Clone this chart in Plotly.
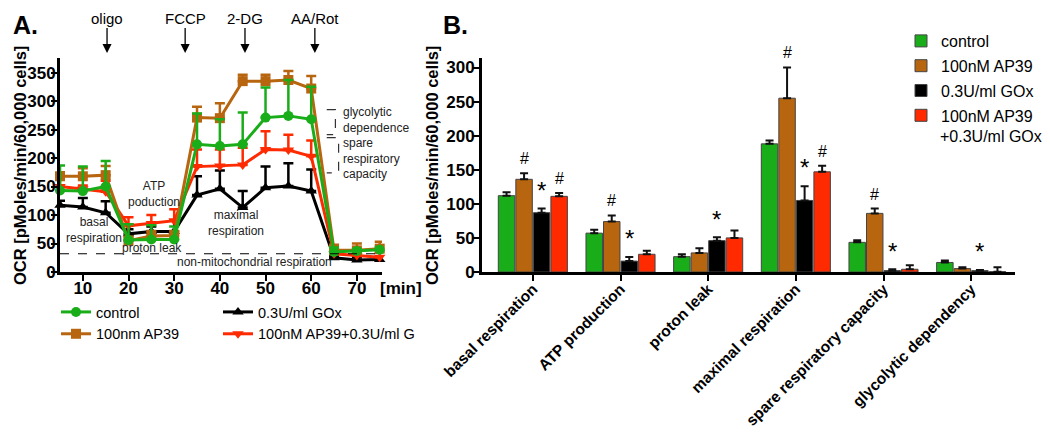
import plotly.graph_objects as go

# ---------------- Panel A data ----------------
time_min = [5, 10, 15, 20, 25, 30, 35, 40, 45, 50, 55, 60, 65, 70, 75]
a_control = [143, 142, 150, 56, 57, 57, 224, 221, 224, 271, 274, 268, 35, 37, 39]
a_control_up = [187, 185, 195, 84, 82, 80, 278, 268, 280, 324, 337, 325, 43, 41, 44]
a_ap39 = [168, 168, 170, 55, 63, 64, 271, 270, 335, 335, 337, 322, 38, 38, 41]
a_ap39_up = [175, 182, 186, 62, 72, 72, 290, 296, 346, 346, 353, 344, 48, 50, 53]
a_gox = [117, 114, 104, 67, 71, 71, 135, 146, 113, 148, 151, 142, 25, 21, 22]
a_gox_up = [125, 130, 124, 75, 80, 90, 168, 178, 142, 185, 191, 180, 28, 26, 25]
a_combo = [150, 146, 141, 81, 85, 90, 185, 186, 188, 215, 214, 203, 32, 29, 26]
a_combo_up = [175, 152, 160, 96, 100, 110, 215, 215, 218, 247, 241, 231, 40, 36, 34]
nonmito_level = 32
injections = ["oligo", "FCCP", "2-DG", "AA/Rot"]
injection_times = [15.3, 32.4, 45.5, 60.8]

# ---------------- Panel B data ----------------
categories = ["basal respiration", "ATP production", "proton leak",
              "maximal respiration", "spare respiratory capacity", "glycolytic dependency"]
b_control = [112, 57, 22.5, 188, 43.5, 14]
b_control_err = [5, 5, 3.5, 5, 3, 3]
b_ap39 = [136, 74, 28, 255, 86, 5]
b_ap39_err = [9, 9, 7, 45, 7, 2]
b_gox = [87, 16, 46, 105, 2, 2]
b_gox_err = [6, 6, 5, 21, 2, 1]
b_combo = [111, 26, 50, 147, 4, 0.5]
b_combo_err = [5, 5, 11, 9, 6, 6.5]
sig_ap39 = ["#", "#", "", "#", "#", ""]
sig_gox = ["*", "*", "*", "*", "*", "*"]
sig_combo = ["#", "", "", "#", "", ""]

GREEN = "#1aad1a"
BROWN = "#b8650f"
BLACK = "#000000"
RED = "#ff2a00"
FONT = "Liberation Sans, Arial, sans-serif"

# the page body has an 8 px margin; lay out in reference-picture pixels
OFF = 8
W, H = 1050 - OFF, 436 - OFF
def px(x):
    return (x - OFF) / W
def py(y):
    return 1 - (y - OFF) / H

fig = go.Figure()

# ---- Panel A lines ----
series_a = [
    ("0.3U/ml GOx", a_gox, a_gox_up, BLACK, "triangle-up", "legend3"),
    ("100nM AP39+0.3U/ml G", a_combo, a_combo_up, RED, "triangle-down", "legend3"),
    ("100nm AP39", a_ap39, a_ap39_up, BROWN, "square", "legend"),
    ("control", a_control, a_control_up, GREEN, "circle", "legend"),
]
for name, vals, ups, col, sym, leg in series_a:
    fig.add_trace(go.Scatter(
        x=time_min, y=vals, name=name, mode="lines+markers",
        line=dict(color=col, width=3),
        marker=dict(symbol=sym, size=10, color=col),
        error_y=dict(type="data", symmetric=False,
                     array=[u - v for u, v in zip(ups, vals)],
                     arrayminus=[0] * len(vals),
                     color=col, thickness=2.5, width=5),
        cliponaxis=False, legend=leg,
        xaxis="x", yaxis="y"))

# ---- Panel B bars ----
series_b = [
    ("control", b_control, b_control_err, GREEN),
    ("100nM AP39", b_ap39, b_ap39_err, BROWN),
    ("0.3U/ml GOx", b_gox, b_gox_err, BLACK),
    ("100nM AP39", b_combo, b_combo_err, RED),
]
for i, (name, vals, errs, col) in enumerate(series_b):
    fig.add_trace(go.Bar(
        x=categories, y=vals, name=name,
        marker=dict(color=col, line=dict(color="#444444", width=1)),
        error_y=dict(type="data", symmetric=False, array=errs,
                     arrayminus=[0] * len(vals), color="#111111",
                     thickness=2, width=4),
        legend="legend2", legendgroup=f"g{i}",
        xaxis="x2", yaxis="y2"))

annotations = []
shapes = []

# significance marks
sig_sets = [(1, sig_ap39, b_ap39, b_ap39_err), (2, sig_gox, b_gox, b_gox_err),
            (3, sig_combo, b_combo, b_combo_err)]
for j, marks, vals, errs in sig_sets:
    for k, m in enumerate(marks):
        if not m:
            continue
        top = vals[k] + errs[k]
        annotations.append(dict(
            x=k + (j - 1.5) * 0.2, y=top + (6 if m == "#" else 4),
            xref="x2", yref="y2", text=m, showarrow=False,
            xanchor="center", yanchor="bottom",
            font=dict(family=FONT, size=16 if m == "#" else 24, color="black")))

# Panel A injection arrows (tip just above the plot area)
for lab, t in zip(injections, injection_times):
    annotations.append(dict(
        x=t, y=py(53), xref="x", yref="paper", text=lab, showarrow=True,
        ax=0, ay=-35, arrowhead=2, arrowsize=1.4, arrowwidth=1.3,
        arrowcolor="black", font=dict(family=FONT, size=15, color="black")))

# Panel A inline labels
inline = [
    ("basal<br>respiration", 12.4, 73),
    ("ATP<br>poduction", 25.6, 137),
    ("proton leak", 25.1, 42),
    ("maximal<br>respiration", 43.6, 86),
    ("non-mitochondrial respiration", 47.6, 17),
]
for txt, x, y in inline:
    annotations.append(dict(x=x, y=y, xref="x", yref="y", text=txt,
                            showarrow=False, xanchor="center", yanchor="middle",
                            font=dict(family=FONT, size=12, color="#222222")))
annotations.append(dict(
    x=66.6, y=227, xref="x", yref="y", xanchor="left", yanchor="middle",
    text="glycolytic<br>dependence<br>spare<br>respiratory<br>capacity",
    showarrow=False, align="left",
    font=dict(family=FONT, size=12, color="#222222")))

# dashed non-mito line and brackets
shapes.append(dict(type="line", xref="x", yref="y", x0=5, x1=75.5,
                   y0=nonmito_level, y1=nonmito_level,
                   line=dict(color="black", width=1.2, dash="dash")))
shapes.append(dict(type="path", xref="x", yref="y",
                   path="M 63.4,285 L 65.3,285 L 65.3,241 L 63.4,241",
                   line=dict(color="#333333", width=1.2, dash="dash")))
shapes.append(dict(type="path", xref="x", yref="y",
                   path="M 63.4,236 L 66.0,236 L 66.0,174 L 63.4,174",
                   line=dict(color="#333333", width=1.2, dash="dash")))

# panel letters, axis titles, legend continuation line
def paper_text(x, y, text, size, angle=0, xanchor="center"):
    return dict(x=px(x), y=py(y), xref="paper", yref="paper", text=text,
                textangle=angle, showarrow=False, xanchor=xanchor,
                yanchor="middle", font=dict(family=FONT, size=size, color="black"))

annotations += [
    paper_text(25, 25, "<b>A.</b>", 25),
    paper_text(455, 25, "<b>B.</b>", 25),
    paper_text(20, 166, "<b>OCR [pMoles/min/60,000 cells]</b>", 16.5, -90),
    paper_text(432, 166, "<b>OCR [pMoles/min/60,000 cells]</b>", 16.5, -90),
    paper_text(401, 288, "<b>[min]</b>", 17),
    paper_text(938, 136, "+0.3U/ml GOx", 16, 0, "left"),
]

axis_common = dict(showline=True, linecolor="black", linewidth=3,
                   ticks="outside", ticklen=6, tickwidth=2, tickcolor="black",
                   showgrid=False, zeroline=False, automargin=False,
                   tickfont=dict(family=FONT, size=17, color="black", weight="bold"))

fig.update_layout(
    width=W, height=H, margin=dict(l=0, r=0, t=0, b=0, autoexpand=False),
    paper_bgcolor="white", plot_bgcolor="white",
    barmode="group", bargap=0.2, bargroupgap=0.06,
    xaxis=dict(domain=[px(60), px(382)], range=[5, 75.5], anchor="y",
               tickvals=[10, 20, 30, 40, 50, 60, 70], ticklabelstandoff=-7,
               **axis_common),
    yaxis=dict(domain=[py(272), py(58)], range=[0, 375.6], anchor="x",
               tickvals=[0, 50, 100, 150, 200, 250, 300, 350], ticklabelstandoff=-8,
               **axis_common),
    xaxis2=dict(domain=[px(482), px(1015)], range=[-0.58, 5.5], anchor="y2",
                type="category", tickangle=-45, ticklabelstandoff=-7,
                **{**axis_common, "tickfont": dict(family=FONT, size=15.5, color="black", weight="bold")}),
    yaxis2=dict(domain=[py(272), py(58)], range=[0, 314], anchor="x2",
                tickvals=[0, 50, 100, 150, 200, 250, 300], ticklabelstandoff=-5,
                **axis_common),
    legend=dict(x=px(56), y=py(296), xanchor="left", yanchor="top",
                orientation="v", tracegroupgap=0, traceorder="reversed",
                font=dict(family=FONT, size=14.5, color="black"),
                bgcolor="rgba(0,0,0,0)"),
    legend3=dict(x=px(218), y=py(296), xanchor="left", yanchor="top",
                 orientation="v", tracegroupgap=0,
                 font=dict(family=FONT, size=14.5, color="black"),
                 bgcolor="rgba(0,0,0,0)"),
    legend2=dict(x=px(901), y=py(24), xanchor="left", yanchor="top",
                 orientation="v", tracegroupgap=1,
                 font=dict(family=FONT, size=16, color="black"),
                 bgcolor="rgba(0,0,0,0)"),
    annotations=annotations, shapes=shapes,
    showlegend=True,
)

fig.write_html("out.html")
